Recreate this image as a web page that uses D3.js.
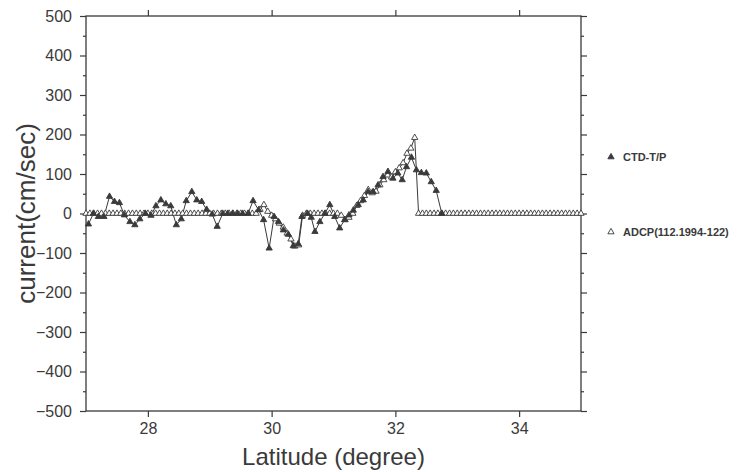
<!DOCTYPE html>
<html>
<head>
<meta charset="utf-8">
<script src="https://cdn.jsdelivr.net/npm/d3@7"></script>
<style>
  body { margin: 0; background: #fff; }
  text { font-family: "Liberation Sans", Arial, Helvetica, sans-serif; fill: #3a3a3a; }
</style>
</head>
<body>
<div id="chart"></div>
<script>
// tick labels
const xTicks = [28, 30, 32, 34];
const yTicks = [-500, -400, -300, -200, -100, 0, 100, 200, 300, 400, 500];
const yMinor = [-450, -350, -250, -150, -50, 50, 150, 250, 350, 450];

// CTD-T/P (filled triangles)
const ctdLat = [27.04, 27.12, 27.20, 27.29, 27.38, 27.46, 27.54, 27.62, 27.71, 27.79,
  27.87, 27.96, 28.05, 28.13, 28.21, 28.29, 28.37, 28.46, 28.54, 28.62,
  28.71, 28.79, 28.87, 28.95, 29.04, 29.12, 29.21, 29.29, 29.37, 29.45,
  29.53, 29.62, 29.70, 29.79, 29.87, 29.96, 30.04, 30.11, 30.19, 30.27,
  30.35, 30.43, 30.49, 30.58, 30.64, 30.70, 30.78, 30.86, 30.94, 31.02,
  31.10, 31.18, 31.25, 31.32, 31.40, 31.48, 31.56, 31.64, 31.72, 31.80,
  31.88, 31.96, 32.04, 32.11, 32.18, 32.26, 32.34, 32.42, 32.50, 32.58,
  32.66, 32.75];
const ctdVal = [-27, 0, -8, -8, 43, 30, 27, -4, -21, -29,
  -14, 0, -5, 19, 34, 24, 19, -29, -14, 32,
  55, 34, 30, 10, -2, -33, 0, 0, 0, 0,
  0, 0, 32, 9, -16, -88, -8, -21, -42, -53,
  -82, -77, -8, 0, -10, -46, -21, 0, 22, -8,
  -37, -16, -4, 8, 22, 34, 55, 55, 72, 93,
  106, 89, 102, 85, 118, 142, 110, 103, 102, 80,
  58, 0];

// ADCP(112.1994-122) (open triangles), one value every 1/16 degree from 27.0
const adcpStart = 27;
const adcpStep = 0.0625;
const adcpVal = [
  0, 0, 0, 0, 0, 0, 0, 0, 0, 0, 0, 0, 0, 0, 0, 0,          // 27.0
  0, 0, 0, 0, 0, 0, 0, 0, 0, 0, 0, 0, 0, 0, 0, 0,          // 28.0
  0, 0, 0, 0, 0, 0, 0, 0, 0, 0, 0, 0, 0, 10, 22, 5,        // 29.0
  -5, -14, -25, -35, -50, -65, -83, -80, -5, 0, 0, 0, 0, 0, 0, 0, // 30.0
  0, 0, -5, -16, -10, 0, 20, 32, 45, 60, 52, 56, 72, 85, 97, 92,  // 31.0
  105, 115, 128, 152, 165, 192, 0, 0, 0, 0, 0, 0, 0, 0, 0, 0,     // 32.0
  0, 0, 0, 0, 0, 0, 0, 0, 0, 0, 0, 0, 0, 0, 0, 0,          // 33.0
  0, 0, 0, 0, 0, 0, 0, 0, 0, 0, 0, 0, 0, 0, 0, 0,          // 34.0
  0                                                         // 35.0
];

const W = 742, H = 472;
const margin = { top: 16, right: 161, bottom: 61, left: 86 };
const width = W - margin.left - margin.right,
      height = H - margin.top - margin.bottom;
const ink = "#3a3a3a";

const svg = d3.select("#chart").append("svg")
  .attr("width", W).attr("height", H);
const g = svg.append("g")
  .attr("transform", `translate(${margin.left},${margin.top})`);

const x = d3.scaleLinear().domain([27, 35]).range([0, width]);
const y = d3.scaleLinear().domain([-500, 500]).range([height, 0]);

function styleAxis(sel) {
  sel.select(".domain").remove();
  sel.selectAll("line").attr("stroke", ink).attr("stroke-width", 1.2);
  sel.selectAll("text").attr("fill", ink).style("font-size", "16px");
}

// axes: major + minor ticks on all four sides
g.append("g").attr("transform", `translate(0,${height})`)
  .call(d3.axisBottom(x).tickValues(xTicks).tickSize(6).tickPadding(6).tickFormat(d3.format("d")))
  .call(styleAxis);
g.append("g")
  .call(d3.axisTop(x).tickValues(xTicks).tickSize(6).tickFormat(""))
  .call(styleAxis);
g.append("g")
  .call(d3.axisLeft(y).tickValues(yTicks).tickSize(6).tickPadding(8).tickFormat(d3.format("d")))
  .call(styleAxis);
g.append("g")
  .call(d3.axisLeft(y).tickValues(yMinor).tickSize(3).tickFormat(""))
  .call(styleAxis);
g.append("g").attr("transform", `translate(${width},0)`)
  .call(d3.axisRight(y).tickValues(yTicks).tickSize(6).tickFormat(""))
  .call(styleAxis);
g.append("g").attr("transform", `translate(${width},0)`)
  .call(d3.axisRight(y).tickValues(yMinor).tickSize(3).tickFormat(""))
  .call(styleAxis);

g.append("rect")
  .attr("width", width).attr("height", height)
  .attr("fill", "none").attr("stroke", ink).attr("stroke-width", 1.3);

// data
const ctd = ctdLat.map((lat, i) => ({ lat, v: ctdVal[i] }));
const adcp = adcpVal.map((v, i) => ({ lat: adcpStart + i * adcpStep, v }));

const line = d3.line().x(d => x(d.lat)).y(d => y(d.v));
const tri = d3.symbol(d3.symbolTriangle).size(17);

g.append("path").datum(adcp)
  .attr("d", line).attr("fill", "none").attr("stroke", ink).attr("stroke-width", 1);
g.append("path").datum(ctd)
  .attr("d", line).attr("fill", "none").attr("stroke", ink).attr("stroke-width", 1);

g.selectAll(".adcp").data(adcp).join("path")
  .attr("class", "adcp")
  .attr("transform", d => `translate(${x(d.lat)},${y(d.v)})`)
  .attr("d", tri)
  .attr("fill", "#fff").attr("stroke", ink).attr("stroke-width", 0.9);
g.selectAll(".ctd").data(ctd).join("path")
  .attr("class", "ctd")
  .attr("transform", d => `translate(${x(d.lat)},${y(d.v)})`)
  .attr("d", tri)
  .attr("fill", ink).attr("stroke", ink).attr("stroke-width", 0.9);

// axis titles
svg.append("text")
  .attr("x", margin.left + width / 2).attr("y", 465)
  .attr("text-anchor", "middle")
  .style("font-size", "24px")
  .text("Latitude (degree)");
svg.append("text")
  .attr("transform", `translate(35,${margin.top + height / 2}) rotate(-90)`)
  .attr("text-anchor", "middle")
  .style("font-size", "26px")
  .text("current(cm/sec)");

// legend
const legendItems = [
  { name: "CTD-T/P", filled: true, y: 157 },
  { name: "ADCP(112.1994-122)", filled: false, y: 232 }
];
const legend = svg.append("g");
legend.selectAll("path").data(legendItems).join("path")
  .attr("transform", d => `translate(611,${d.y})`)
  .attr("d", tri)
  .attr("fill", d => d.filled ? ink : "#fff")
  .attr("stroke", ink).attr("stroke-width", 0.9);
legend.selectAll("text").data(legendItems).join("text")
  .attr("x", 623).attr("y", d => d.y + 4)
  .style("font-size", "11px").style("font-weight", "bold")
  .text(d => d.name);
</script>
</body>
</html>
